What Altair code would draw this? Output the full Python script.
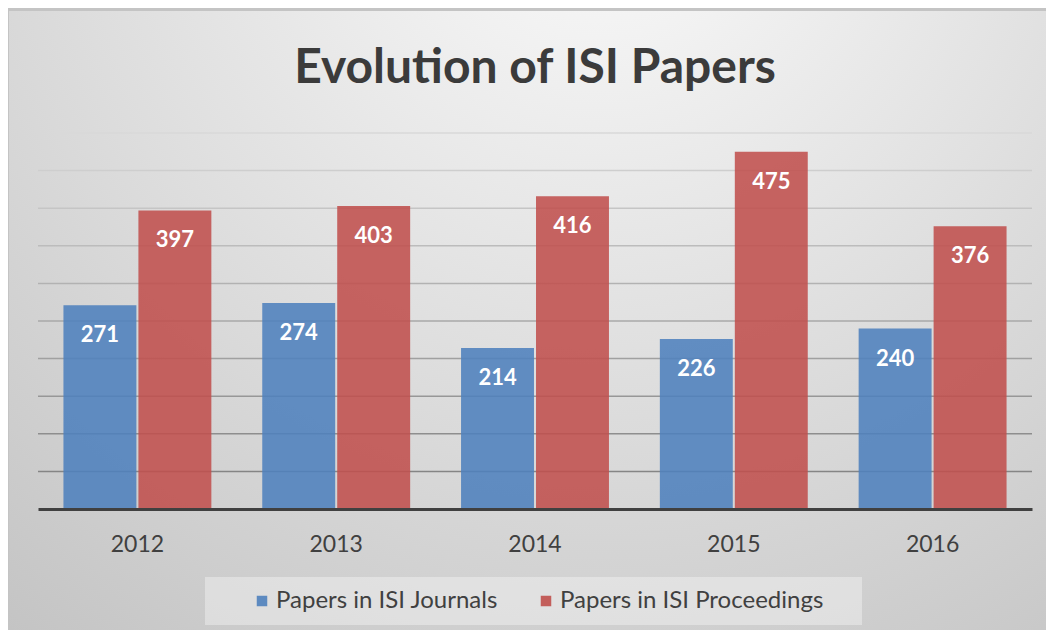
import altair as alt
import pandas as pd

years = ["2012", "2013", "2014", "2015", "2016"]
journals = [271, 274, 214, 226, 240]
proceedings = [397, 403, 416, 475, 376]
series = ["Papers in ISI Journals", "Papers in ISI Proceedings"]
colors = ["#4f81bd", "#c0504d"]
y_ticks = [50, 100, 150, 200, 250, 300, 350, 400, 450, 500]

rows = []
for i, yr in enumerate(years):
    rows.append({"year": yr, "series": series[0], "value": journals[i]})
    rows.append({"year": yr, "series": series[1], "value": proceedings[i]})
df = pd.DataFrame(rows)
grid_df = pd.DataFrame({"tick": y_ticks})
one = pd.DataFrame({"k": [0]})

W, H = 994, 376
PL, PT, PR, PB = 30, 125, 14, 121

y_scale = alt.Scale(domain=[0, 500], nice=False)
x_enc = alt.X(
    "year:N", sort=years,
    scale=alt.Scale(paddingInner=0.256, paddingOuter=0.128),
    axis=alt.Axis(title=None, labelFont="Lato", labelFontSize=23, labelColor="#404040",
                  ticks=False, labelPadding=24, domainColor="#404040", domainWidth=3,
                  zindex=1, labelAngle=0, grid=False),
)
xoff = alt.XOffset("series:N", sort=series, scale=alt.Scale(paddingInner=0.027))

grad = alt.RadialGradient(
    gradient="radial",
    stops=[alt.GradientStop(offset=0, color="#fcfcfc"),
           alt.GradientStop(offset=1, color="#c3c3c3")],
    x1=0.57, y1=0.06, r1=0, x2=0.57, y2=0.06, r2=0.95,
)

bg = alt.Chart(one).mark_rect(fill=grad, strokeWidth=0).encode(
    x=alt.value(-PL + 1), x2=alt.value(W + PR),
    y=alt.value(-PT + 3), y2=alt.value(H + PB),
)

legend_box = alt.Chart(one).mark_rect(fill="white", fillOpacity=0.35, strokeWidth=0).encode(
    x=alt.value(167), x2=alt.value(824), y=alt.value(444), y2=alt.value(492),
)

grid = alt.Chart(grid_df).mark_rule(strokeWidth=1.5).encode(
    y=alt.Y("tick:Q", scale=y_scale, axis=None),
    stroke=alt.Stroke("tick:Q", scale=alt.Scale(domain=[50, 500], range=["#858585", "#d8d8d8"]), legend=None),
)

bars = alt.Chart(df).mark_bar(opacity=0.88).encode(
    x=x_enc, xOffset=xoff,
    y=alt.Y("value:Q", scale=y_scale, axis=None),
    color=alt.Color("series:N", scale=alt.Scale(domain=series, range=colors),
                    legend=alt.Legend(title=None, orient="none", legendX=212, legendY=456,
                                      direction="horizontal", symbolType="square", symbolSize=110,
                                      symbolStrokeWidth=0, labelFont="Lato", labelFontSize=24,
                                      labelColor="#404040", labelOffset=2, columnPadding=36,
                                      labelLimit=500, padding=0, symbolOpacity=0.9)),
)

labels = alt.Chart(df).mark_text(color="white", font="Lato", fontWeight="bold", fontSize=22,
                                 baseline="top", dy=20).encode(
    x=alt.X("year:N", sort=years), xOffset=alt.XOffset("series:N", sort=series),
    y=alt.Y("value:Q", scale=y_scale, axis=None),
    text="value:Q",
)

chart = alt.layer(bg, legend_box, grid, bars, labels).properties(
    width=W, height=H,
    title=alt.TitleParams("Evolution of ISI Papers", font="Lato", fontSize=48, fontWeight="bold",
                          color="#3b3b3b", anchor="middle", frame="group", offset=0, dy=82),
    autosize=alt.AutoSizeParams(type="none"),
    padding={"left": PL, "top": PT, "right": PR, "bottom": PB},
    background="#c4c4c4",
).configure_view(strokeWidth=0)

chart.save("out.html", embed_options={"renderer": "svg", "actions": False})
